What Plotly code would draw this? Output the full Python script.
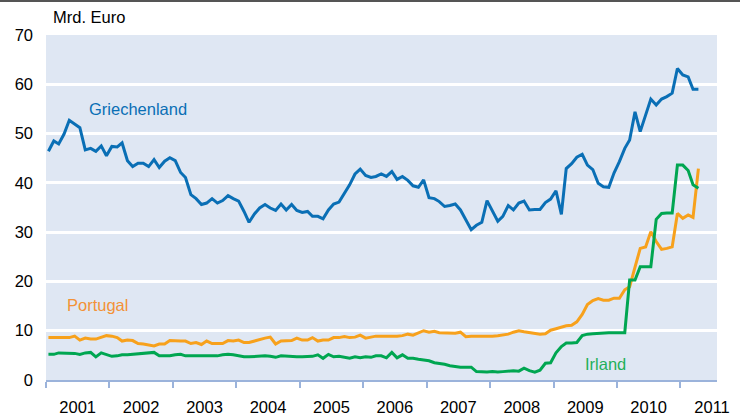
import plotly.graph_objects as go
import pandas as pd

# monthly values, Jan 2001 - Apr 2011 (Mrd. Euro)
months = pd.date_range("2001-01-01", periods=124, freq="MS") + pd.Timedelta(days=14)

griechenland = [
    46.4, 48.5, 47.9, 49.9, 52.7, 52.0, 51.2, 46.7, 47.0, 46.4,
    47.5, 45.5, 47.4, 47.3, 48.1, 44.5, 43.3, 44.0, 44.0, 43.3,
    44.7, 43.1, 44.4, 45.1, 44.5, 42.1, 41.1, 37.6, 36.8, 35.6,
    35.9, 36.8, 35.9, 36.4, 37.4, 36.8, 36.3, 34.2, 32.0, 33.7,
    34.9, 35.6, 34.9, 34.4, 35.7, 34.5, 35.6, 34.4, 34.0, 34.2,
    33.2, 33.2, 32.7, 34.5, 35.7, 36.1, 37.8, 39.6, 41.8, 42.8,
    41.5, 41.1, 41.3, 41.8, 41.3, 42.3, 40.7, 41.3, 40.5, 39.4,
    39.1, 40.6, 37.0, 36.8, 36.2, 35.2, 35.4, 35.7, 34.5, 32.5,
    30.5, 31.4, 32.0, 36.4, 34.4, 32.2, 33.2, 35.4, 34.5, 35.9,
    36.3, 34.5, 34.6, 34.6, 36.0, 36.7, 38.4, 33.6, 42.9, 43.9,
    45.2, 45.8, 43.6, 42.7, 39.9, 39.2, 39.1, 42.0, 44.3, 47.0,
    48.7, 54.4, 50.4, 53.8, 57.0, 55.8, 57.0, 57.5, 58.2, 63.2,
    61.9, 61.5, 59.0, 59.0,
]

portugal = [
    8.6, 8.6, 8.6, 8.5, 8.6, 8.9, 8.1, 8.5, 8.3, 8.3,
    8.6, 9.0, 8.9, 8.6, 7.9, 8.1, 8.0, 7.4, 7.3, 7.1,
    6.9, 7.3, 7.3, 8.0, 7.9, 7.9, 7.9, 7.4, 7.6, 7.2,
    7.9, 7.4, 7.4, 7.4, 8.0, 7.9, 8.1, 7.6, 7.6, 7.9,
    8.3, 8.5, 8.7, 7.3, 7.9, 8.0, 8.0, 8.5, 8.1, 8.1,
    8.6, 7.9, 8.1, 8.1, 8.6, 8.6, 8.8, 8.6, 8.7, 9.1,
    8.5, 8.7, 8.9, 8.9, 8.9, 8.8, 8.9, 9.0, 9.3, 9.1,
    9.5, 10.0, 9.7, 9.9, 9.6, 9.6, 9.5, 9.5, 9.7, 8.8,
    8.9, 8.9, 8.8, 8.8, 8.9, 9.0, 9.1, 9.3, 9.7, 10.0,
    9.8, 9.6, 9.5, 9.3, 9.4, 10.1, 10.4, 10.8, 11.0, 11.1,
    11.8, 13.3, 15.3, 16.1, 16.5, 16.2, 16.2, 16.6, 16.6, 18.3,
    18.9, 22.9, 26.7, 27.0, 30.1, 28.1, 26.5, 26.7, 27.0, 33.8,
    32.8, 33.5, 33.0, 42.9,
]

irland = [
    5.2, 5.2, 5.5, 5.5, 5.5, 5.4, 5.2, 5.5, 5.6, 4.7,
    5.5, 5.2, 4.8, 4.9, 5.1, 5.1, 5.2, 5.4, 5.5, 5.6,
    5.6, 4.9, 4.9, 4.9, 5.1, 5.2, 4.9, 4.9, 4.9, 4.9,
    4.9, 4.9, 4.9, 5.1, 5.2, 5.1, 4.9, 4.7, 4.7, 4.8,
    4.8, 4.9, 4.8, 4.6, 4.9, 4.8, 4.7, 4.7, 4.7, 4.7,
    4.8, 5.1, 4.4, 5.2, 4.7, 4.8, 4.6, 4.4, 4.7, 4.5,
    4.7, 4.6, 4.9, 4.9, 4.5, 5.6, 4.5, 5.1, 4.4, 4.4,
    4.2, 4.1, 3.9, 3.5, 3.4, 3.2, 2.9, 2.7, 2.6, 2.6,
    2.6, 1.7, 1.6, 1.6, 1.7, 1.6, 1.7, 1.8, 1.9, 1.8,
    2.4, 1.9, 1.6, 2.0, 3.4, 3.5, 5.5, 6.8, 7.5, 7.5,
    7.6, 9.0, 9.3, 9.4, 9.5, 9.6, 9.6, 9.6, 9.6, 9.6,
    20.3, 20.3, 23.0, 23.0, 23.0, 32.6, 33.8, 33.9, 33.9, 43.6,
    43.6, 42.5, 39.6, 38.9,
]

BLUE = "#0a6fb5"
ORANGE = "#f7a11c"
GREEN = "#00a651"
AXIS = "#9bb3db"

fig = go.Figure()
fig.add_trace(go.Scatter(x=months, y=portugal, mode="lines", line=dict(color=ORANGE, width=3)))
fig.add_trace(go.Scatter(x=months, y=irland, mode="lines", line=dict(color=GREEN, width=3)))
fig.add_trace(go.Scatter(x=months, y=griechenland, mode="lines", line=dict(color=BLUE, width=3)))

# series labels
fig.add_annotation(x="2001-08-25", y=54.9, text="Griechenland", showarrow=False,
                   xanchor="left", font=dict(color=BLUE))
fig.add_annotation(x="2001-04-20", y=15.2, text="Portugal", showarrow=False,
                   xanchor="left", font=dict(color="#f39237"))
fig.add_annotation(x="2009-06-20", y=3.2, text="Irland", showarrow=False,
                   xanchor="left", font=dict(color="#1fb05a"))

# unit label
fig.add_annotation(xref="paper", yref="paper", x=0.0075, y=1.052, text="Mrd. Euro",
                   showarrow=False, xanchor="left", yanchor="middle")

# thin rule at the very top
fig.add_shape(type="line", xref="paper", yref="paper", x0=-0.07, x1=1.04,
              y0=1.0986, y1=1.0986, line=dict(color="#555555", width=2))

fig.update_layout(
    width=740, height=415,
    margin=dict(l=46, r=23, t=35, b=35),
    paper_bgcolor="white",
    plot_bgcolor="#dfe7f3",
    showlegend=False,
    font=dict(family="Liberation Sans, Arial", size=16.5, color="black"),
)
fig.update_xaxes(
    type="date", range=["2001-01-01", "2011-07-31"],
    tick0="2001-01-01", dtick="M12", tickformat="%Y", ticklabelmode="period",
    ticks="outside", ticklen=6, tickwidth=1.5, tickcolor=AXIS,
    showline=True, linecolor=AXIS, linewidth=1.5,
    showgrid=False, zeroline=False, ticklabelstandoff=5, automargin=False,
)
fig.update_yaxes(
    range=[0, 70], dtick=10, showgrid=True, gridcolor="white", gridwidth=3,
    zeroline=False, showline=False, ticks="", ticklabelstandoff=12, automargin=False,
)

# pin the chart to the window's top-left corner (the page adds margins otherwise)
pin = (
    "document.body.style.margin = '0';"
    "var d = document.getElementById('{plot_id}');"
    "d.style.position = 'fixed'; d.style.left = '0px'; d.style.top = '0px';"
)
fig.write_html("out.html", config={"displayModeBar": False}, post_script=pin)
